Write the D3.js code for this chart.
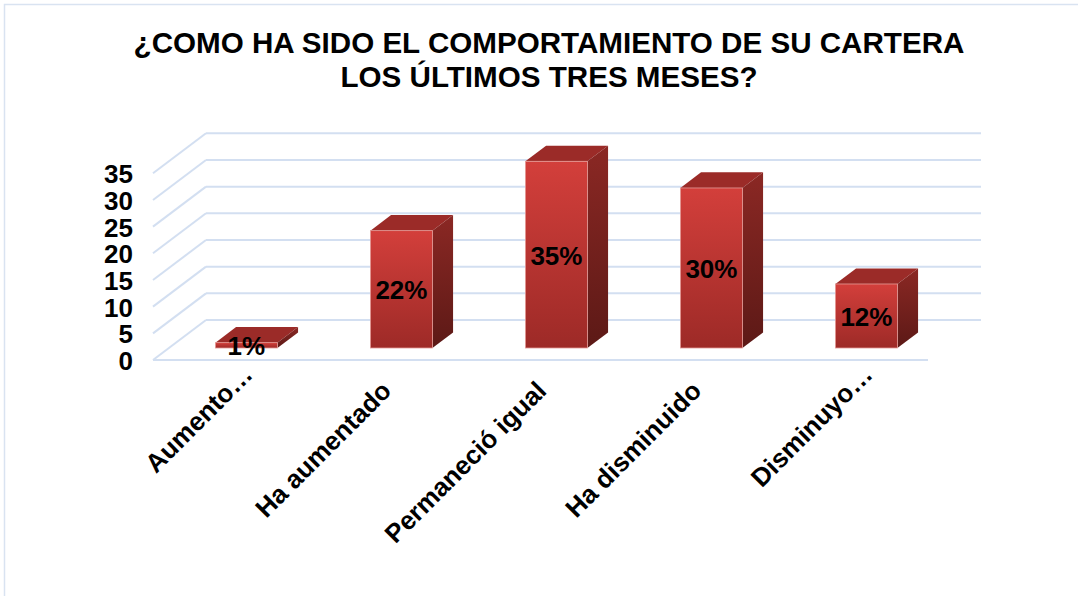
<!DOCTYPE html>
<html>
<head>
<meta charset="utf-8">
<script src="https://cdn.jsdelivr.net/npm/d3@7"></script>
<style>
  body { margin: 0; background: #fff; }
  svg text { font-family: Arial, "Liberation Sans", sans-serif; font-weight: bold; fill: #000; }
</style>
</head>
<body>
<div id="chart"></div>
<script>
// data
const categories = ["Aumento…", "Ha aumentado", "Permaneció igual", "Ha disminuido", "Disminuyo…"];
const values = [1, 22, 35, 30, 12];
const valueLabels = ["1%", "22%", "35%", "30%", "12%"];
const yTicks = [0, 5, 10, 15, 20, 25, 30, 35];
const titleLines = ["¿COMO HA SIDO EL COMPORTAMIENTO DE SU CARTERA", "LOS ÚLTIMOS TRES MESES?"];

const width = 1078;
const height = 596;

// 3d depth of the plot box (full depth) and where the bars sit in it
const depthX = 53;
const depthY = -40;
const barFront = 0.3;
const barBack = 0.69;

const svg = d3.select('#chart')
    .append('svg')
    .attr('width', width)
    .attr('height', height);

svg.append('rect')
    .attr('x', 4.5).attr('y', 4.5)
    .attr('width', width + 20).attr('height', height + 20)
    .attr('fill', '#fff')
    .attr('stroke', '#d9e3f1')
    .attr('stroke-width', 1.5);

svg.selectAll('.title')
    .data(titleLines)
    .join('text')
    .attr('class', 'title')
    .attr('x', 549)
    .attr('y', (d, i) => 52.5 + i * 34)
    .attr('text-anchor', 'middle')
    .style('font-size', '29.6px')
    .text(d => d);

const x = d3.scaleBand()
    .domain(categories)
    .range([153, 928]);

const y = d3.scaleLinear()
    .domain([0, 35])
    .range([360, 173.3]);

const pt = (px, py, d) => [px + d * depthX, py + d * depthY];

const defs = svg.append('defs');
const frontGrad = defs.append('linearGradient')
    .attr('id', 'frontGrad').attr('x1', 0).attr('y1', 0).attr('x2', 0).attr('y2', 1);
frontGrad.append('stop').attr('offset', '0%').attr('stop-color', '#d33f3b');
frontGrad.append('stop').attr('offset', '100%').attr('stop-color', '#9d2a27');
const sideGrad = defs.append('linearGradient')
    .attr('id', 'sideGrad').attr('x1', 0).attr('y1', 0).attr('x2', 0).attr('y2', 1);
sideGrad.append('stop').attr('offset', '0%').attr('stop-color', '#8b2824');
sideGrad.append('stop').attr('offset', '100%').attr('stop-color', '#5c1916');

// grid: back wall + left side wall
const grid = svg.append('g');
grid.selectAll('.back')
    .data(yTicks)
    .join('line')
    .attr('x1', pt(x.range()[0], 0, 1)[0])
    .attr('x2', pt(x.range()[1], 0, 1)[0])
    .attr('y1', d => pt(0, y(d), 1)[1])
    .attr('y2', d => pt(0, y(d), 1)[1])
    .attr('stroke', '#d3dff1')
    .attr('stroke-width', 2);
grid.selectAll('.side')
    .data(yTicks)
    .join('line')
    .attr('x1', x.range()[0])
    .attr('y1', d => y(d))
    .attr('x2', pt(x.range()[0], 0, 1)[0])
    .attr('y2', d => pt(0, y(d), 1)[1])
    .attr('stroke', '#d3dff1')
    .attr('stroke-width', 2);
grid.append('line')
    .attr('x1', x.range()[0]).attr('x2', x.range()[1])
    .attr('y1', y(0)).attr('y2', y(0))
    .attr('stroke', '#d3dff1')
    .attr('stroke-width', 2);

// y tick labels
svg.selectAll('.ytick')
    .data(yTicks)
    .join('text')
    .attr('class', 'ytick')
    .attr('x', 133)
    .attr('y', d => y(d) + 1)
    .attr('text-anchor', 'end')
    .attr('dominant-baseline', 'central')
    .style('font-size', '26px')
    .text(d => d);

// bars
const barW = x.bandwidth() * 0.4;
const rows = categories.map((c, i) => ({ cat: c, value: values[i], label: valueLabels[i] }));

const bars = svg.selectAll('.bar')
    .data(rows)
    .join('g')
    .attr('class', 'bar');

const poly = pts => pts.map(p => p.join(',')).join(' ');

bars.append('polygon')
    .attr('points', d => {
        const x0 = x(d.cat) + (x.bandwidth() - barW) / 2, x1 = x0 + barW;
        return poly([pt(x0, y(d.value), barFront), pt(x1, y(d.value), barFront),
                     pt(x1, y(d.value), barBack), pt(x0, y(d.value), barBack)]);
    })
    .attr('fill', '#9b2b28');

bars.append('polygon')
    .attr('points', d => {
        const x1 = x(d.cat) + (x.bandwidth() + barW) / 2;
        return poly([pt(x1, y(d.value), barFront), pt(x1, y(d.value), barBack),
                     pt(x1, y(0), barBack), pt(x1, y(0), barFront)]);
    })
    .attr('fill', 'url(#sideGrad)');

bars.append('rect')
    .attr('x', d => pt(x(d.cat) + (x.bandwidth() - barW) / 2, 0, barFront)[0])
    .attr('y', d => pt(0, y(d.value), barFront)[1])
    .attr('width', barW)
    .attr('height', d => y(0) - y(d.value))
    .attr('fill', 'url(#frontGrad)')
    .attr('stroke', '#e49a96')
    .attr('stroke-width', 0.8);

bars.append('text')
    .attr('x', d => pt(x(d.cat) + x.bandwidth() / 2, 0, barFront)[0])
    .attr('y', d => pt(0, (y(d.value) + y(0)) / 2, barFront)[1] + 1)
    .attr('text-anchor', 'middle')
    .attr('dominant-baseline', 'central')
    .style('font-size', '26px')
    .text(d => d.label);

// category labels, rotated
svg.selectAll('.xlabel')
    .data(categories)
    .join('text')
    .attr('class', 'xlabel')
    .attr('transform', d => `translate(${x(d) + x.bandwidth() / 2 + 1},386) rotate(-45)`)
    .attr('dx', d => d.endsWith('…') ? 23 : 0)
    .attr('text-anchor', 'end')
    .attr('dominant-baseline', 'central')
    .style('font-size', '26px')
    .text(d => d);
</script>
</body>
</html>
